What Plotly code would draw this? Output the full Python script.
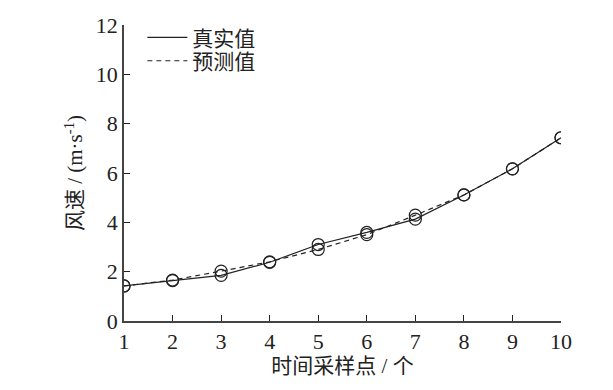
import plotly.graph_objects as go

x_points = [1, 2, 3, 4, 5, 6, 7, 8, 9, 10]
true_vals = [1.42, 1.64, 1.85, 2.38, 3.10, 3.59, 4.13, 5.11, 6.17, 7.43]
pred_vals = [1.42, 1.66, 2.02, 2.40, 2.90, 3.50, 4.29, 5.11, 6.17, 7.43]
y_ticks = [0, 2, 4, 6, 8, 10, 12]
x_title = "时间采样点 / 个"
y_title = "风速 / (m·s<sup>-1</sup>)"
names = ["真实值", "预测值"]

NUM_FONT = "Liberation Serif"
FONT = "Liberation Serif, Noto Sans CJK SC"
INK = "#222"
fig = go.Figure()
fig.add_trace(go.Scatter(x=x_points, y=pred_vals, mode="lines+markers", showlegend=False,
                         line=dict(color=INK, width=1.2, dash="5px,4px"),
                         marker=dict(symbol="circle-open", size=12, color=INK, line=dict(width=1.2))))
fig.add_trace(go.Scatter(x=x_points, y=true_vals, mode="lines+markers", showlegend=False,
                         line=dict(color=INK, width=1.2),
                         marker=dict(symbol="circle-open", size=12, color=INK, line=dict(width=1.2))))
fig.add_trace(go.Scatter(x=[None], y=[None], mode="lines", name=names[0], legend="legend",
                         line=dict(color=INK, width=1.2)))
fig.add_trace(go.Scatter(x=[None], y=[None], mode="lines", name=names[1], legend="legend2",
                         line=dict(color=INK, width=1.2, dash="5px,4px")))

leg = dict(xanchor="left", yanchor="middle", bgcolor="rgba(0,0,0,0)",
           font=dict(family=FONT, size=21, color=INK), itemwidth=40, borderwidth=0)
fig.update_layout(
    width=613, height=390,
    margin=dict(l=124, r=52, t=25, b=69),
    paper_bgcolor="white", plot_bgcolor="white",
    font=dict(family=FONT, size=21, color=INK),
    legend=dict(x=0.042, y=0.957, **leg),
    legend2=dict(x=0.042, y=0.878, **leg),
    xaxis=dict(range=[1, 10], tickvals=x_points, ticks="inside", ticklen=6, tickcolor=INK,
               showline=True, linecolor="#444", linewidth=1.5, showgrid=False, zeroline=False,
               title=dict(text=x_title, font=dict(family=FONT, size=21), standoff=4),
               tickfont=dict(family=NUM_FONT, size=22)),
    yaxis=dict(range=[0, 12], tickvals=y_ticks, ticks="inside", ticklen=6, tickcolor=INK,
               showline=True, linecolor="#444", linewidth=1.5, showgrid=False, zeroline=False,
               title=dict(text=y_title, font=dict(family=FONT, size=21), standoff=7),
               tickfont=dict(family=NUM_FONT, size=22)),
)
fig.write_html("out.html", config={"displayModeBar": False},
               post_script="document.body.style.margin='0';")
